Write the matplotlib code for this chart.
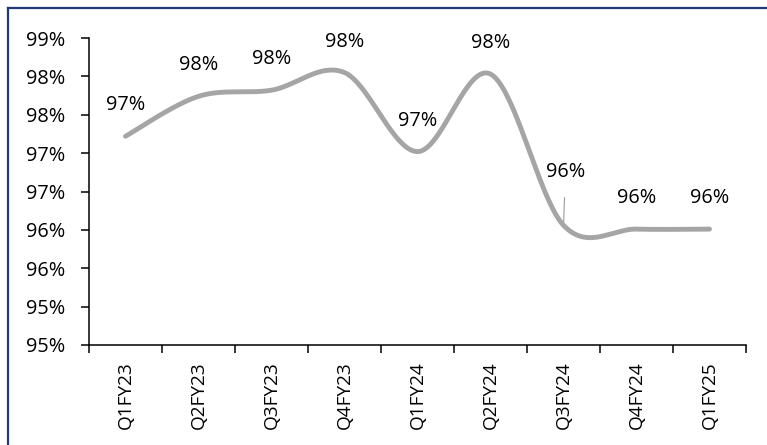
import math
import numpy as np
import matplotlib
matplotlib.use("Agg")
import matplotlib.pyplot as plt
from matplotlib.lines import Line2D

plt.rcParams['font.family'] = ['Open Sans', 'DejaVu Sans']

quarters = ["Q1FY23", "Q2FY23", "Q3FY23", "Q4FY23", "Q1FY24",
            "Q2FY24", "Q3FY24", "Q4FY24", "Q1FY25"]
collection_eff = [97.72, 98.24, 98.32, 98.55, 97.52, 98.53, 96.56, 96.51, 96.51]
yticks = [95.0, 95.5, 96.0, 96.5, 97.0, 97.5, 98.0, 98.5, 99.0]


def pct(v):
    # whole-number percent, dropping the decimals
    return "%d%%" % math.floor(v + 1e-9)


def smooth(xs, ys, n=40):
    # catmull-rom style bezier through every point
    xs = np.asarray(xs, float)
    ys = np.asarray(ys, float)
    px = np.concatenate([[xs[0]], xs, [xs[-1]]])
    py = np.concatenate([[ys[0]], ys, [ys[-1]]])
    outx, outy = [], []
    for i in range(1, len(px) - 2):
        p0 = np.array([px[i], py[i]])
        p3 = np.array([px[i + 1], py[i + 1]])
        c1 = p0 + (p3 - np.array([px[i - 1], py[i - 1]])) / 6.0
        c2 = p3 - (np.array([px[i + 2], py[i + 2]]) - p0) / 6.0
        t = np.linspace(0, 1, n)[:, None]
        b = ((1 - t) ** 3) * p0 + 3 * ((1 - t) ** 2) * t * c1 \
            + 3 * (1 - t) * t ** 2 * c2 + t ** 3 * p3
        outx.extend(b[:, 0])
        outy.extend(b[:, 1])
    return outx, outy


x = np.arange(len(quarters))
fs = 14.3

fig = plt.figure(figsize=(7.67, 4.45), dpi=100)
ax = fig.add_axes([89 / 767, 1 - 345 / 445, (746 - 89) / 767, (345 - 38) / 445])

sx, sy = smooth(x, collection_eff)
ax.plot(sx, sy, color='#A5A5A5', lw=3.5, solid_capstyle='round', zorder=3)

ax.set_xlim(-0.5, len(quarters) - 0.5)
ax.set_ylim(95, 99)

ax.set_yticks(yticks)
ax.set_yticklabels([pct(v) for v in yticks])
ax.set_xticks(np.arange(len(quarters) + 1) - 0.5)
ax.set_xticklabels([])
ax.set_xticks(x, minor=True)
ax.set_xticklabels(quarters, minor=True, rotation=90)
ax.tick_params(axis='x', which='minor', length=0, pad=12, labelsize=13.7)
ax.tick_params(axis='x', which='major', length=5.8, width=1.1, direction='out')
ax.tick_params(axis='y', length=5.8, width=1.1, pad=11, labelsize=fs)

for s in ['top', 'right']:
    ax.spines[s].set_visible(False)
for s in ['left', 'bottom']:
    ax.spines[s].set_linewidth(1.1)

# data labels
for i, v in enumerate(collection_eff):
    if quarters[i] == "Q3FY24":
        ax.annotate(pct(v), (i, v), xytext=(2, 53), textcoords='offset pixels',
                    ha='center', va='center', fontsize=fs,
                    arrowprops=dict(arrowstyle='-', color='#A5A5A5', lw=0.9,
                                    shrinkA=9, shrinkB=1))
    else:
        ax.annotate(pct(v), (i, v), xytext=(0, 31), textcoords='offset pixels',
                    ha='center', va='center', fontsize=fs)

# frame on the left and top edges
fig.add_artist(Line2D([7.5 / 767, 7.5 / 767], [0, 1 - 7.5 / 445],
                      transform=fig.transFigure, color='#1F3A78', lw=1.6))
fig.add_artist(Line2D([7.5 / 767, 1], [1 - 7.5 / 445, 1 - 7.5 / 445],
                      transform=fig.transFigure, color='#1F3A78', lw=1.6))

fig.savefig("out.png", dpi=100)
